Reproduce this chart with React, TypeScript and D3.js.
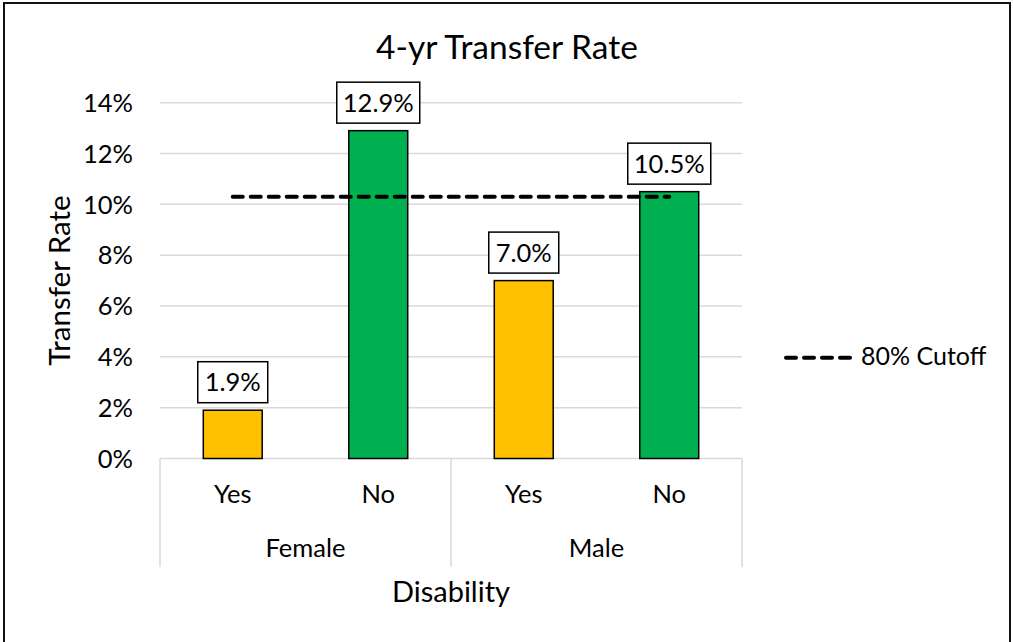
import React from "react";
import * as d3 from "d3";

const groups = ["Female", "Male"];
const disability = ["Yes", "No"];
const rates = [1.9, 12.9, 7.0, 10.5];
const cutoff = [10.3, 10.3, 10.3, 10.3];
const yTicks = [0, 2, 4, 6, 8, 10, 12, 14];
const barColors: Record<string, string> = { Yes: "#FFC000", No: "#00B050" };

const FONT = "Lato, 'Noto Sans', sans-serif";

export default function App() {
  const W = 1013;
  const H = 642;
  const left = 160;
  const right = 742;
  const cats = groups.flatMap((g) => disability.map((d) => `${g}|${d}`));
  const x = d3.scaleBand<string>().domain(cats).range([left, right]).padding(0);
  const gx = d3.scaleBand<string>().domain(groups).range([left, right]).padding(0);
  const y = d3.scaleLinear().domain([0, 14]).range([458.5, 102.7]);
  const bw = x.bandwidth() * 0.405;
  const cx = (c: string) => (x(c) as number) + x.bandwidth() / 2;

  const line = d3
    .line<number>()
    .x((_, i) => cx(cats[i]))
    .y((d) => y(d));

  const axisBottom = y(0);
  const sepBottom = 567;

  return (
    <svg
      width={W}
      height={H}
      style={{ position: "absolute", left: 0, top: 0, background: "#fff" }}
      fontFamily={FONT}
    >
      <rect x={0} y={0} width={W} height={H} fill="#fff" />
      <rect x={4} y={3} width={1006} height={640} fill="#fff" stroke="#111" strokeWidth={2} />

      <text x={507} y={58.5} textAnchor="middle" fontSize={33.5} fill="#000">
        4-yr Transfer Rate
      </text>

      {/* gridlines */}
      {yTicks.map((t) => (
        <line key={t} x1={left} x2={right} y1={y(t)} y2={y(t)} stroke="#d9d9d9" strokeWidth={1.5} />
      ))}
      {yTicks.map((t) => (
        <text key={"l" + t} x={133} y={y(t)} dy="0.36em" textAnchor="end" fontSize={25.5} fill="#000">
          {t}%
        </text>
      ))}

      {/* category separators */}
      {[left, gx("Male") as number, right].map((xx, i) => (
        <line key={"s" + i} x1={xx} x2={xx} y1={axisBottom} y2={sepBottom} stroke="#d9d9d9" strokeWidth={1.5} />
      ))}

      {/* bars */}
      {cats.map((c, i) => {
        const d = c.split("|")[1];
        return (
          <rect
            key={c}
            x={cx(c) - bw / 2}
            y={y(rates[i])}
            width={bw}
            height={y(0) - y(rates[i])}
            fill={barColors[d]}
            stroke="#000"
            strokeWidth={1.5}
          />
        );
      })}

      {/* cutoff line */}
      <path
        d={line(cutoff) as string}
        fill="none"
        stroke="#000"
        strokeWidth={4}
        strokeDasharray="10 8"
        strokeLinecap="round"
      />

      {/* data labels */}
      {cats.map((c, i) => {
        const label = `${rates[i].toFixed(1)}%`;
        const boxW = label.length === 5 ? 83 : 70;
        const by = y(rates[i]) - 7.5 - 41;
        return (
          <g key={"d" + c}>
            <rect x={cx(c) - boxW / 2} y={by} width={boxW} height={41} fill="#fff" stroke="#000" strokeWidth={1.5} />
            <text x={cx(c)} y={by + 29.5} textAnchor="middle" fontSize={25.5} fill="#000">
              {label}
            </text>
          </g>
        );
      })}

      {/* category labels */}
      {cats.map((c) => (
        <text key={"c" + c} x={cx(c)} y={503.3} textAnchor="middle" fontSize={25.5} fill="#000">
          {c.split("|")[1]}
        </text>
      ))}
      {groups.map((g) => (
        <text
          key={"g" + g}
          x={(gx(g) as number) + gx.bandwidth() / 2}
          y={557.3}
          textAnchor="middle"
          fontSize={25.5}
          fill="#000"
        >
          {g}
        </text>
      ))}

      <text x={(left + right) / 2} y={601.7} textAnchor="middle" fontSize={29} fill="#000">
        Disability
      </text>
      <text
        transform={`translate(69.5, ${(y(0) + y(14)) / 2}) rotate(-90)`}
        textAnchor="middle"
        fontSize={29.5}
        fill="#000"
      >
        Transfer Rate
      </text>

      {/* legend */}
      <line
        x1={786}
        x2={852}
        y1={357.7}
        y2={357.7}
        stroke="#000"
        strokeWidth={4}
        strokeDasharray="10 8"
        strokeLinecap="round"
      />
      <text x={861} y={365} fontSize={25} fill="#000">
        80% Cutoff
      </text>
    </svg>
  );
}
